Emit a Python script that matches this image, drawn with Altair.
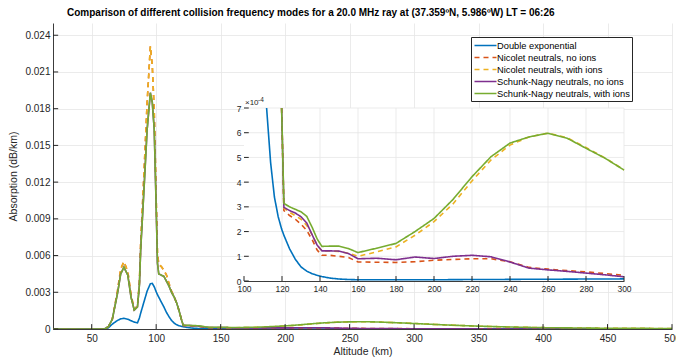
import altair as alt
import pandas as pd

# ---------------- data (absorption in units of 1e-4 dB/km) ----------------
altitude = [20, 60, 63, 66, 70, 72.5, 75, 78, 80.5, 83, 85.5, 87, 88, 90.5, 93, 95.5, 97, 98.5, 100, 101,
            102, 104, 106, 108, 110, 111.9, 114, 116, 118, 119.8, 121, 124, 127, 130, 133, 136, 138.5, 141,
            145, 150, 155, 160, 170, 180, 190, 200, 210, 220, 230, 240, 250, 260, 270, 280, 290, 300, 325,
            350, 375, 400, 450, 500]

double_exp = [0, 0, 1, 4, 7, 8.3, 8.7, 8, 6.8, 5.6, 5, 9, 13, 22, 31, 37, 37.2, 34.5, 30.5, 28,
              26, 22, 18, 13.5, 10, 7.0, 4.8, 3.4, 2.6, 2.1, 1.85, 1.3, 0.88, 0.57, 0.4, 0.29, 0.23, 0.18,
              0.12, 0.08, 0.06, 0.05, 0.05, 0.05, 0.05, 0.05, 0.055, 0.06, 0.06, 0.065, 0.07, 0.07, 0.075,
              0.08, 0.08, 0.085, 0.09, 0.09, 0.09, 0.09, 0.09, 0.09]

nicolet_no_ions = [0, 0, 2, 8, 31, 49, 55, 47, 28, 16, 19, 38, 70, 126, 185, 231, 215, 178, 108, 62,
                   53, 51, 48, 44, 37, 31, 26, 21, 14, 7.0, 2.85, 2.65, 2.5, 2.3, 2.05, 1.65, 1.25, 1.04,
                   1.04, 1.0, 0.95, 0.77, 0.76, 0.75, 0.78, 0.84, 0.87, 0.9, 0.9, 0.78, 0.55, 0.48, 0.42,
                   0.37, 0.30, 0.23, 0.13, 0.08, 0.05, 0.04, 0.03, 0.02]

nicolet_with_ions = [0, 0, 2, 8, 31, 49, 55, 47, 28, 16, 19, 38, 70, 126, 185, 231, 215, 178, 108, 62,
                     53, 51, 48, 44, 37, 31, 26, 21, 14, 7.0, 2.95, 2.78, 2.64, 2.5, 2.25, 1.85, 1.45, 1.22,
                     1.22, 1.2, 1.12, 1.0, 1.18, 1.38, 1.85, 2.4, 3.12, 4.05, 4.9, 5.5, 5.83, 5.98, 5.8,
                     5.4, 4.98, 4.5, 3.3, 2.3, 1.6, 1.1, 0.6, 0.4]

sn_no_ions = [0, 0, 2, 8, 29, 45, 50.5, 44, 26, 15.5, 18, 36, 65, 113, 163, 193, 185, 163, 100, 54,
              45, 44, 43, 39, 35, 30, 26, 21, 14, 7.0, 2.98, 2.85, 2.75, 2.6, 2.35, 1.85, 1.45, 1.22,
              1.22, 1.21, 1.11, 0.9, 0.92, 0.86, 0.97, 0.91, 1.0, 1.04, 0.98, 0.77, 0.52, 0.45, 0.39,
              0.32, 0.25, 0.17, 0.1, 0.06, 0.04, 0.03, 0.02, 0.015]

sn_with_ions = [0, 0, 2, 8, 29, 45, 50.5, 44, 26, 15.5, 18, 36, 65, 113, 163, 193, 185, 163, 100, 54,
                45, 44, 43, 39, 35, 30, 26, 21, 14, 7.0, 3.14, 3.0, 2.9, 2.8, 2.62, 2.15, 1.7, 1.4,
                1.41, 1.41, 1.31, 1.15, 1.33, 1.52, 2.0, 2.53, 3.3, 4.22, 5.03, 5.58, 5.83, 5.98, 5.78,
                5.37, 4.97, 4.49, 3.3, 2.3, 1.6, 1.1, 0.6, 0.4]

series = ["Double exponential", "Nicolet neutrals, no ions", "Nicolet neutrals, with ions",
          "Schunk-Nagy neutrals, no ions", "Schunk-Nagy neutrals, with ions"]
colors = ["#0072BD", "#D95319", "#EDB120", "#7E2F8E", "#77AC30"]
dashes = [[1, 0], [5, 4], [5, 4], [1, 0], [1, 0]]

main_xticks = [50, 100, 150, 200, 250, 300, 350, 400, 450, 500]
main_yticks = [0, 0.003, 0.006, 0.009, 0.012, 0.015, 0.018, 0.021, 0.024]
inset_xticks = [100, 120, 140, 160, 180, 200, 220, 240, 260, 280, 300]
inset_yticks = [0, 1, 2, 3, 4, 5, 6, 7]

title_text = ("Comparison of different collision frequency modes for a 20.0 MHz ray at "
              "(37.359ºN, 5.986ºW) LT = 06:26")

rows = []
for k, (name, vals) in enumerate(zip(series, [double_exp, nicolet_no_ions, nicolet_with_ions,
                                              sn_no_ions, sn_with_ions])):
    for a, v in zip(altitude, vals):
        rows.append({"altitude": a, "v4": v, "series": name, "k": k})
df = pd.DataFrame(rows)
one = pd.DataFrame({"a": [0]})

# ---------------- styling ----------------
W, H = 619, 306
FONT = "Liberation Sans"
AX = "#262626"
GRID = "#e6e6e6"
LW = 1.6

legend = alt.Legend(title=None, orient="none", legendX=418, legendY=14, fillColor="white",
                    strokeColor=AX, padding=2, symbolType="M-2,0L2,0", symbolSize=121,
                    symbolOffset=6, symbolStrokeWidth=LW, labelFont=FONT, labelFontSize=9.3,
                    labelColor="black", labelOffset=5, rowPadding=-1.6, cornerRadius=0,
                    labelLimit=400,
                    labelExpr="datum.label + '\u00a0\u00a0\u00a0\u00a0\u00a0'")
color_enc = alt.Color("series:N", scale=alt.Scale(domain=series, range=colors), legend=legend)
dash_enc = alt.StrokeDash("series:N", scale=alt.Scale(domain=series, range=dashes), legend=legend)

# ---------------- main plot ----------------
mx = alt.Scale(domain=[20, 500], nice=False, zero=False)
my = alt.Scale(domain=[0, 0.025], nice=False, zero=False)
mx_axis = alt.Axis(values=main_xticks, grid=True, gridColor=GRID, gridWidth=0.8, ticks=False,
                   title="Altitude (km)", labelPadding=4, titlePadding=3, labelFlush=False)
my_axis = alt.Axis(values=main_yticks, grid=True, gridColor=GRID, gridWidth=0.8, ticks=False,
                   title="Absorption (dB/km)", labelPadding=3, titlePadding=6, labelFlush=False,
                   labelExpr="datum.value == 0 ? '0' : format(datum.value, '.3f')")

main_lines = alt.Chart(df).transform_calculate(absorption="datum.v4 * 1e-4").mark_line(
    strokeWidth=LW, clip=True).encode(
    x=alt.X("altitude:Q", scale=mx, axis=mx_axis),
    y=alt.Y("absorption:Q", scale=my, axis=my_axis),
    color=color_enc,
    strokeDash=dash_enc,
    order=alt.Order("altitude:Q"),
)

main_xt = alt.Chart(pd.DataFrame({"t": main_xticks})).mark_rule(color=AX, strokeWidth=1).encode(
    x=alt.X("t:Q", scale=mx, axis=mx_axis),
    y=alt.YDatum(0, scale=my, axis=my_axis), y2=alt.datum(0.0004))
main_yt = alt.Chart(pd.DataFrame({"t": main_yticks})).mark_rule(color=AX, strokeWidth=1).encode(
    y=alt.Y("t:Q", scale=my, axis=my_axis),
    x=alt.XDatum(20, scale=mx, axis=mx_axis), x2=alt.datum(24))

main_layer = alt.layer(main_lines, main_xt, main_yt)

# ---------------- inset ----------------
ix = alt.Scale(domain=[100, 300], range=[191, 571], nice=False, zero=False)
iy = alt.Scale(domain=[0, 7], range=[258, 85], nice=False, zero=False)
ix_axis = alt.Axis(orient="bottom", offset=-(H - 258), values=inset_xticks, grid=False,
                   ticks=False, title=None, labelFontSize=8.5, labelPadding=3, labelFlush=False)
iy_axis = alt.Axis(orient="left", offset=-191, values=inset_yticks, grid=False,
                   ticks=False, title=None, labelFontSize=8.5, labelPadding=3, labelFlush=False)

inset_bg = alt.Chart(one).mark_rect(fill="white").encode(
    x=alt.XDatum(100, scale=ix, axis=ix_axis), x2=alt.datum(300),
    y=alt.YDatum(0, scale=iy, axis=iy_axis), y2=alt.datum(7))

inset_gx = alt.Chart(pd.DataFrame({"t": inset_xticks[1:]})).mark_rule(color=GRID, strokeWidth=0.8).encode(
    x=alt.X("t:Q", scale=ix, axis=ix_axis),
    y=alt.YDatum(0, scale=iy, axis=iy_axis), y2=alt.datum(7))
inset_gy = alt.Chart(pd.DataFrame({"t": inset_yticks[1:]})).mark_rule(color=GRID, strokeWidth=0.8).encode(
    y=alt.Y("t:Q", scale=iy, axis=iy_axis),
    x=alt.XDatum(100, scale=ix, axis=ix_axis), x2=alt.datum(300))

inset_lines = alt.Chart(df).transform_filter(
    "datum.altitude >= 100 && datum.altitude <= 300 && datum.v4 <= 7.0001").mark_line(
    strokeWidth=LW).encode(
    x=alt.X("altitude:Q", scale=ix, axis=ix_axis),
    y=alt.Y("v4:Q", scale=iy, axis=iy_axis),
    color=color_enc,
    strokeDash=dash_enc,
    order=alt.Order("altitude:Q"),
)

inset_xt = alt.Chart(pd.DataFrame({"t": inset_xticks})).mark_rule(color=AX, strokeWidth=1).encode(
    x=alt.X("t:Q", scale=ix, axis=ix_axis),
    y=alt.YDatum(0, scale=iy, axis=iy_axis), y2=alt.datum(0.2))
inset_yt = alt.Chart(pd.DataFrame({"t": inset_yticks})).mark_rule(color=AX, strokeWidth=1).encode(
    y=alt.Y("t:Q", scale=iy, axis=iy_axis),
    x=alt.XDatum(100, scale=ix, axis=ix_axis), x2=alt.datum(102.5))

exp_base = alt.Chart(one).mark_text(text="×10", font=FONT, fontSize=8, color=AX, align="left",
                                    baseline="bottom", dx=1, dy=-1).encode(
    x=alt.XDatum(100, scale=ix, axis=ix_axis), y=alt.YDatum(7, scale=iy, axis=iy_axis))
exp_pow = alt.Chart(one).mark_text(text="-4", font=FONT, fontSize=6.5, color=AX, align="left",
                                   baseline="bottom", dx=14, dy=-5).encode(
    x=alt.XDatum(100, scale=ix, axis=ix_axis), y=alt.YDatum(7, scale=iy, axis=iy_axis))

inset_layer = alt.layer(inset_bg, inset_gx, inset_gy, inset_lines, inset_xt, inset_yt, exp_base, exp_pow)

# ---------------- combine ----------------
chart = alt.layer(main_layer, inset_layer).resolve_scale(
    x="independent", y="independent"
).properties(
    width=W, height=H,
    title=alt.TitleParams(text=title_text, font=FONT, fontSize=10, fontWeight="bold", color="black",
                          anchor="start", frame="group", dx=14, offset=5),
    autosize=alt.AutoSizeParams(type="none"),
    padding={"left": 53, "top": 23, "right": 4, "bottom": 29},
    background="white",
).configure_view(stroke=None).configure_axis(
    labelFont=FONT, labelFontSize=10, labelColor=AX, titleFont=FONT, titleFontSize=10.5,
    titleFontWeight="normal", titleColor=AX, domainColor=AX, domainWidth=0.9,
)

chart.save("out.html", embed_options={"renderer": "svg", "actions": False})
